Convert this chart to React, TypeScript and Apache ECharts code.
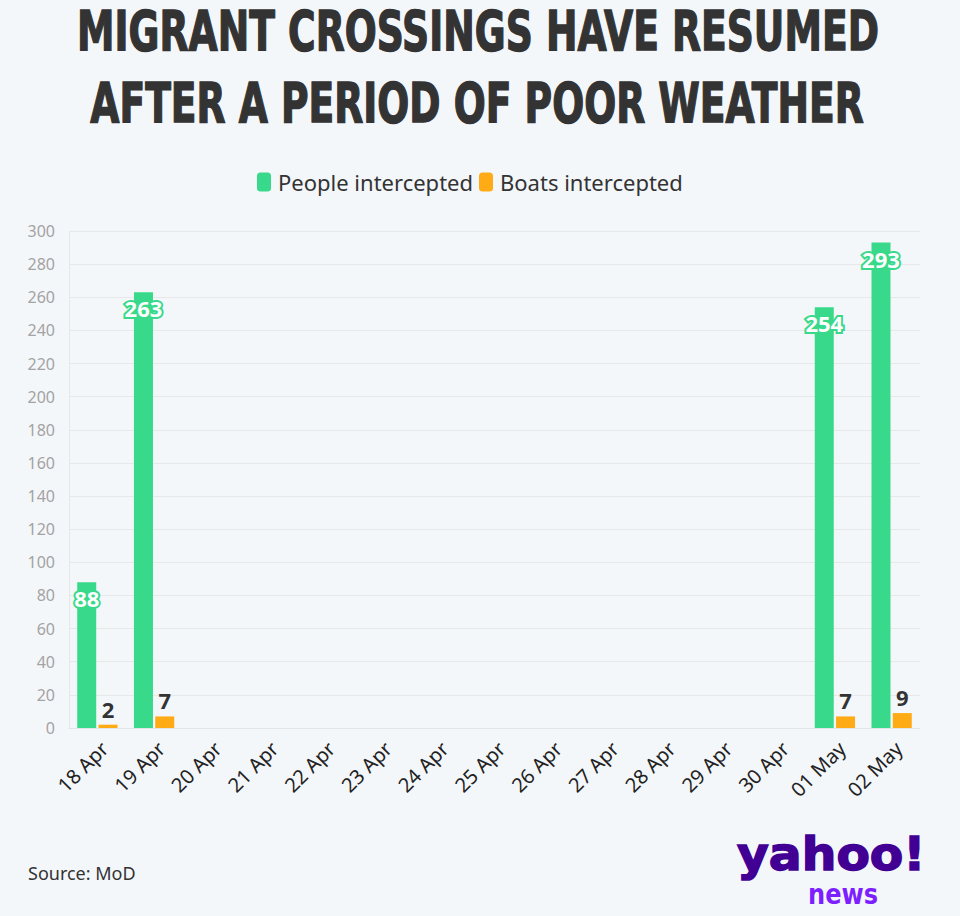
import React, { useEffect, useRef } from "react";
import * as echarts from "echarts";

const categories = ["18 Apr", "19 Apr", "20 Apr", "21 Apr", "22 Apr", "23 Apr", "24 Apr", "25 Apr", "26 Apr", "27 Apr", "28 Apr", "29 Apr", "30 Apr", "01 May", "02 May"];
const peopleIntercepted = [88, 263, 0, 0, 0, 0, 0, 0, 0, 0, 0, 0, 0, 254, 293];
const boatsIntercepted = [2, 7, 0, 0, 0, 0, 0, 0, 0, 0, 0, 0, 0, 7, 9];
const yTicks = { min: 0, max: 300, interval: 20 };

const titleLines = ["MIGRANT CROSSINGS HAVE RESUMED", "AFTER A PERIOD OF POOR WEATHER"];
const sourceText = "Source: MoD";

const BG = "#f4f7fa";
const GREEN = "#38d98a";
const ORANGE = "#ffab16";
const FONT = "'Noto Sans', 'Open Sans', sans-serif";

export default function App() {
  const ref = useRef<HTMLDivElement>(null);
  useEffect(() => {
    document.body.style.margin = "0";
    document.body.style.background = BG;
    if (!ref.current) return;
    const chart = echarts.init(ref.current, null, { renderer: "svg" });
    chart.setOption({
      animation: false,
      backgroundColor: BG,
      textStyle: { fontFamily: FONT },
      legend: {
        top: 166,
        left: 252,
        itemWidth: 14,
        itemHeight: 19,
        itemGap: 6,
        icon: "roundRect",
        textStyle: { fontSize: 22, color: "#333", fontFamily: FONT, padding: [0, 0, 0, 2] },
        data: ["People intercepted", "Boats intercepted"],
      },
      grid: { left: 69, right: 40, top: 231, bottom: 188, containLabel: false },
      xAxis: {
        type: "category",
        data: categories,
        axisLine: { lineStyle: { color: "#e4e4e4" } },
        axisTick: { alignWithLabel: true, length: 6, lineStyle: { color: "#e4e4e4" } },
        axisLabel: {
          rotate: 45,
          fontSize: 20,
          color: "#222",
          margin: 10,
          verticalAlign: "top",
          fontFamily: FONT,
          interval: 0,
        },
        splitLine: { show: false },
      },
      yAxis: {
        type: "value",
        min: yTicks.min,
        max: yTicks.max,
        interval: yTicks.interval,
        axisLine: { show: true, lineStyle: { color: "#e8e8e8" } },
        axisTick: { show: false },
        axisLabel: { fontSize: 16, color: "#a3a3a3", margin: 14, fontFamily: FONT },
        splitLine: { lineStyle: { color: "#e8e8e8" } },
      },
      series: [
        {
          name: "People intercepted",
          type: "bar",
          data: peopleIntercepted,
          barWidth: 19,
          barGap: "12%",
          itemStyle: { color: GREEN },
          label: {
            show: true,
            position: "insideTop",
            distance: 5,
            fontSize: 22,
            fontWeight: "bold",
            color: "#fff",
            textBorderColor: GREEN,
            textBorderWidth: 4,
            fontFamily: FONT,
            formatter: (p: any) => (p.value ? String(p.value) : ""),
          },
        },
        {
          name: "Boats intercepted",
          type: "bar",
          data: boatsIntercepted,
          barWidth: 19,
          itemStyle: { color: ORANGE },
          label: {
            show: true,
            position: "top",
            distance: 5,
            fontSize: 22,
            fontWeight: "bold",
            color: "#333",
            fontFamily: FONT,
            formatter: (p: any) => (p.value ? String(p.value) : ""),
          },
        },
      ],
      graphic: [
        {
          type: "text",
          x: 478,
          y: 31,
          scaleX: 0.685,
          style: {
            text: titleLines[0],
            fontSize: 55,
            fontWeight: 900,
            fontFamily: "'DejaVu Sans', sans-serif",
            fill: "#333",
            stroke: "#333",
            lineWidth: 1.5,
            align: "center",
            verticalAlign: "middle",
          },
        },
        {
          type: "text",
          x: 477,
          y: 103,
          scaleX: 0.685,
          style: {
            text: titleLines[1],
            fontSize: 55,
            fontWeight: 900,
            fontFamily: "'DejaVu Sans', sans-serif",
            fill: "#333",
            stroke: "#333",
            lineWidth: 1.5,
            align: "center",
            verticalAlign: "middle",
          },
        },
        {
          type: "text",
          x: 28,
          y: 873,
          style: {
            text: sourceText,
            fontSize: 18,
            fontFamily: FONT,
            fill: "#333",
            align: "left",
            verticalAlign: "middle",
          },
        },
        {
          type: "text",
          x: 737,
          y: 854,
          scaleX: 1.06,
          style: {
            text: "yahoo!",
            fontSize: 46,
            fontWeight: 900,
            fontFamily: "'DejaVu Sans', sans-serif",
            fill: "#410093",
            stroke: "#410093",
            lineWidth: 1.5,
            align: "left",
            verticalAlign: "middle",
          },
        },
        {
          type: "text",
          x: 808,
          y: 894,
          scaleX: 0.86,
          style: {
            text: "news",
            fontSize: 28,
            fontWeight: 900,
            fontFamily: "'DejaVu Sans', sans-serif",
            fill: "#7e1fff",
            align: "left",
            verticalAlign: "middle",
          },
        },
      ],
    });
    return () => chart.dispose();
  }, []);
  return <div ref={ref} style={{ width: 960, height: 916 }} />;
}
